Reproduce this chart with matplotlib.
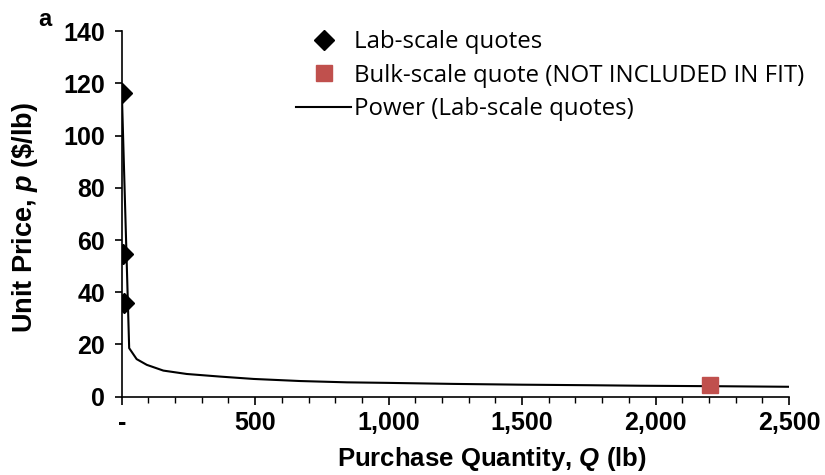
import matplotlib
matplotlib.use("Agg")
import matplotlib.pyplot as plt
from matplotlib.ticker import FixedLocator, MultipleLocator, FuncFormatter

plt.rcParams['mathtext.fontset'] = 'custom'
plt.rcParams['mathtext.rm'] = 'Liberation Sans:bold'
plt.rcParams['mathtext.bf'] = 'Liberation Sans:bold'
plt.rcParams['mathtext.it'] = 'Liberation Sans:bold:italic'
plt.rcParams['mathtext.bfit'] = 'Liberation Sans:bold:italic'

# Data
lab_q = [0.5, 5, 10]
lab_p = [116.5, 54.5, 36.0]
bulk_q = [2205]
bulk_p = [4.4]
fit_q = [0.5, 28, 56, 94, 156, 244, 369, 494, 669, 844, 994, 1244, 1500, 1750, 1943, 2250, 2500]
fit_p = [116.5, 18.6, 14.4, 12.2, 10.0, 8.7, 7.7, 6.8, 6.0, 5.5, 5.3, 4.9, 4.6, 4.4, 4.2, 4.0, 3.8]
x_ticks = [0, 500, 1000, 1500, 2000, 2500]
y_ticks = [0, 20, 40, 60, 80, 100, 120, 140]

fig = plt.figure(figsize=(8.25, 4.75), dpi=100)
ax = fig.add_axes([121.7/825, 1-396.7/475, (789-121.7)/825, (396.7-31.2)/475])

ax.plot(fit_q, fit_p, color='black', lw=1.5, label='Power (Lab-scale quotes)', zorder=2)
ax.plot(lab_q, lab_p, linestyle='none', marker='D', color='black', markersize=10,
        label='Lab-scale quotes', zorder=3)
ax.plot(bulk_q, bulk_p, linestyle='none', marker='s', color='#C0504D', markersize=11,
        label='Bulk-scale quote (NOT INCLUDED IN FIT)', zorder=3)

ax.set_xlim(0, 2500)
ax.set_ylim(0, 140)
for s in ['top', 'right']:
    ax.spines[s].set_visible(False)
for s in ['left', 'bottom']:
    ax.spines[s].set_linewidth(1.2)
    ax.spines[s].set_color('black')

ax.xaxis.set_major_locator(FixedLocator(x_ticks))
ax.xaxis.set_minor_locator(MultipleLocator(100))
ax.yaxis.set_major_locator(FixedLocator(y_ticks))
ax.xaxis.set_major_formatter(FuncFormatter(lambda v, p: '-' if v == 0 else f'{int(v):,}'))
ax.tick_params(axis='x', which='major', direction='out', length=6, width=1.2, pad=4)
ax.tick_params(axis='x', which='minor', direction='out', length=4, width=1.0)
ax.tick_params(axis='y', which='major', direction='out', length=5, width=1.2, pad=7)
for lab in ax.get_xticklabels() + ax.get_yticklabels():
    lab.set_fontfamily('Liberation Sans')
    lab.set_fontweight('bold')
    lab.set_fontsize(18)

fig.text(492/825, 1-459/475, r'Purchase Quantity, $\mathbfit{Q}$ (lb)', fontsize=18.5,
         fontfamily='Liberation Sans', fontweight='bold', ha='center', va='center')
fig.text(25/825, 1-217/475, r'Unit Price, $\mathbfit{p}$ (\$/lb)', fontsize=19.5,
         fontfamily='Liberation Sans', fontweight='bold', ha='center', va='center',
         rotation=90)

handles, labels = ax.get_legend_handles_labels()
order = [1, 2, 0]
leg = ax.legend([handles[i] for i in order], [labels[i] for i in order],
                loc='upper left', bbox_to_anchor=(296/825, 1-30/475), bbox_transform=fig.transFigure,
                frameon=False, prop={'family': 'Open Sans', 'size': 17.3},
                handlelength=2.3, handletextpad=0.1, labelspacing=0.4, borderaxespad=0,
                borderpad=0)

fig.text(45/825, 1-20/475, 'a', fontsize=17, fontweight='bold', fontfamily='Liberation Sans',
         ha='center', va='center')

fig.savefig('out.png', dpi=100)
